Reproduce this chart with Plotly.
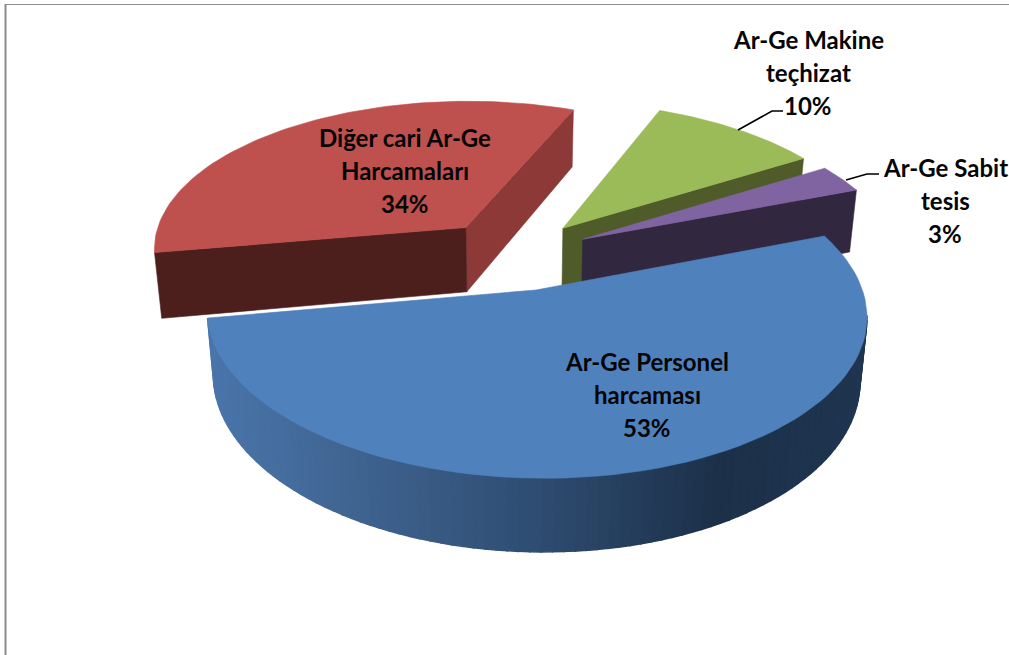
import math
import plotly.graph_objects as go

# ---- data ----
categories = ["Ar-Ge Personel harcaması", "Diğer cari Ar-Ge Harcamaları", "Ar-Ge Makine teçhizat", "Ar-Ge Sabit tesis"]
values = [53, 34, 10, 3]
label_lines = [["Ar-Ge Personel", "harcaması"], ["Diğer cari Ar-Ge", "Harcamaları"], ["Ar-Ge Makine", "teçhizat"], ["Ar-Ge Sabit", "tesis"]]
top_colors = ["#4F81BD", "#BE504D", "#9BBB59", "#8064A2"]
front_colors = ["#27405E", "#4C1F1D", "#4F5B29", "#31273F"]
inner_colors = ["#27405E", "#8C3937", "#4F5B29", "#31273F"]
label_centers = [(647, 361), (405, 137), (808, 39), (945, 167)]

# ---- projection of the exploded tilted pie ----
CX, CY, A, B, K, D = 514, 254.6, 316, 151, 0.14, 61
EX, EY, BOTTOM_X, SHEAR = 0.247, 0.235, 0.98, 0.012
BACK_DEPTH = 1.08
START = 69.4


def project(u, v, z=0):
    w = 1 - K * v
    x = CX + A * (u + SHEAR * v) / w
    y = CY + (B * v + D * z) / w
    if z:
        x = CX + (x - CX) * BOTTOM_X
    return x, y


slices = []
a = START
for val in values:
    span = val * 3.6
    mid = math.radians(a + span / 2)
    slices.append(dict(a0=a, a1=a + span, ou=EX * math.sin(mid), ov=-EY * math.cos(mid)))
    a += span


def rim(s, z=0, n=80):
    pts = []
    for i in range(n + 1):
        t = math.radians(s["a0"] + (s["a1"] - s["a0"]) * i / n)
        pts.append(project(s["ou"] + math.sin(t), s["ov"] - math.cos(t), z))
    return pts


def poly(fig, pts, color, lw=0.6):
    xs = [p[0] for p in pts] + [pts[0][0]]
    ys = [p[1] for p in pts] + [pts[0][1]]
    fig.add_trace(go.Scatter(x=xs, y=ys, mode="lines", fill="toself", fillcolor=color,
                             line=dict(color=color, width=lw), hoverinfo="skip", showlegend=False))


def face(fig, s, a_deg, color):
    t = math.radians(a_deg)
    ou, ov = s["ou"], s["ov"]
    u, v = ou + math.sin(t), ov - math.cos(t)
    poly(fig, [project(ou, ov), project(u, v), project(u, v, BACK_DEPTH), project(ou, ov, BACK_DEPTH)], color)


def blend(c0, c1, f):
    return "#%02x%02x%02x" % tuple(round(p + (q - p) * f) for p, q in zip(c0, c1))


fig = go.Figure()
blue, red, green, purple = slices

# red slice
face(fig, red, red["a1"], inner_colors[1])
face(fig, red, red["a0"], front_colors[1])
poly(fig, [project(red["ou"], red["ov"])] + rim(red), top_colors[1])

# green slice
face(fig, green, green["a1"], front_colors[2])
poly(fig, [project(green["ou"], green["ov"])] + rim(green), top_colors[2])

# purple slice
face(fig, purple, purple["a1"], front_colors[3])
poly(fig, [project(purple["ou"], purple["ov"])] + rim(purple), top_colors[3])

# blue slice: curved side with a horizontal gradient
N = 110
top_rim, bot_rim = rim(blue, 0, N), rim(blue, 1, N)
stops = [(204, (74, 118, 172)), (320, (66, 104, 150)), (540, (46, 76, 112)), (720, (28, 48, 73)), (867, (31, 53, 80))]
for i in range(N):
    if top_rim[i + 1][0] > top_rim[i][0]:
        continue  # still on the back-facing part of the rim
    xm = (top_rim[i][0] + top_rim[i + 1][0]) / 2
    col = "#1f3550"
    for (x0, c0), (x1, c1) in zip(stops, stops[1:]):
        if x0 <= xm <= x1:
            col = blend(c0, c1, (xm - x0) / (x1 - x0))
    poly(fig, [top_rim[i], top_rim[i + 1], bot_rim[i + 1], bot_rim[i]], col, lw=1.5)
poly(fig, [project(blue["ou"], blue["ov"])] + rim(blue), top_colors[0])

# leader lines
for xs, ys in [([738, 772, 783], [130, 111, 111]), ([846, 867, 879], [180, 174, 174])]:
    fig.add_trace(go.Scatter(x=xs, y=ys, mode="lines", line=dict(color="#000000", width=1.6),
                             hoverinfo="skip", showlegend=False))

# labels
annotations = []
LINE = 33
for lines, val, (lx, ly) in zip(label_lines, values, label_centers):
    for j, txt in enumerate(lines + [f"{val}%"]):
        annotations.append(dict(x=lx, y=ly + j * LINE, text=f"<b>{txt}</b>", showarrow=False,
                                xanchor="center", yanchor="middle",
                                font=dict(family="Lato", size=24, color="#050505")))

fig.update_layout(
    width=1009, height=655, margin=dict(l=0, r=0, t=0, b=0), autosize=False,
    paper_bgcolor="#ffffff", plot_bgcolor="#ffffff", showlegend=False,
    xaxis=dict(range=[0, 1009], visible=False, fixedrange=True),
    yaxis=dict(range=[655, 0], visible=False, fixedrange=True),
    annotations=annotations,
    shapes=[
        dict(type="line", xref="x", yref="y", x0=5, x1=1009, y0=4.5, y1=4.5, line=dict(color="#8c8c8c", width=1.2)),
        dict(type="line", xref="x", yref="y", x0=5.5, x1=5.5, y0=4, y1=655, line=dict(color="#8c8c8c", width=2)),
    ],
)
fig.write_html("out.html", config={"displayModeBar": False},
               post_script="document.body.style.margin='0';document.body.style.overflow='hidden';")
